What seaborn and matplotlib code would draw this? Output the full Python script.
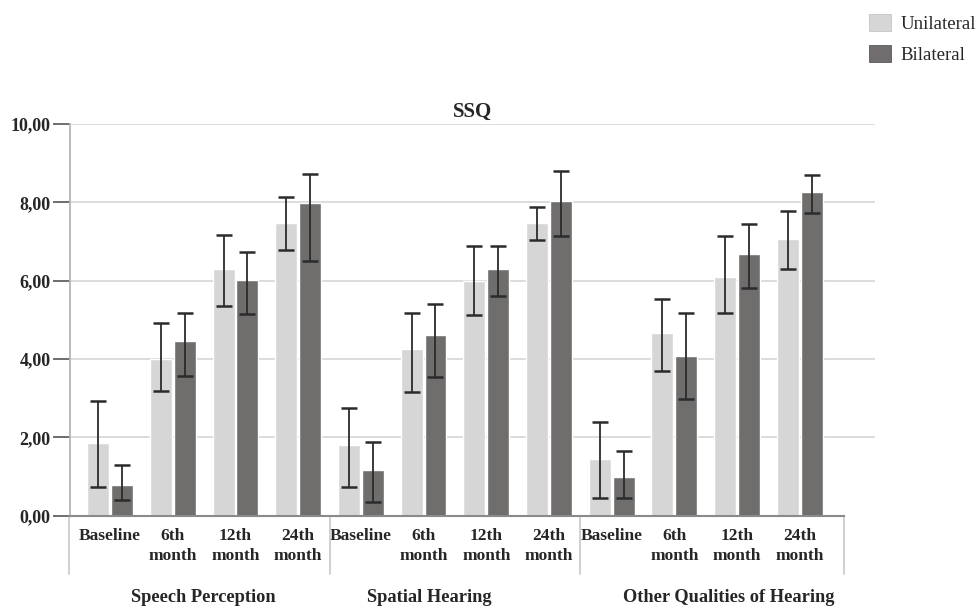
import pandas as pd
import seaborn as sns
import matplotlib.pyplot as plt
from matplotlib.patches import Patch

# data
groups = ["Speech Perception", "Spatial Hearing", "Other Qualities of Hearing"]
times = ["Baseline", "6th\nmonth", "12th\nmonth", "24th\nmonth"]
conditions = ["Unilateral", "Bilateral"]

uni_mean = [1.85, 4.01, 6.29, 7.46, 1.80, 4.25, 5.99, 7.46, 1.44, 4.67, 6.09, 7.06]
uni_low = [0.72, 3.19, 5.35, 6.78, 0.72, 3.17, 5.12, 7.04, 0.45, 3.70, 5.17, 6.29]
uni_high = [2.94, 4.91, 7.17, 8.13, 2.76, 5.17, 6.89, 7.89, 2.40, 5.52, 7.13, 7.77]

bi_mean = [0.78, 4.45, 6.03, 7.98, 1.16, 4.61, 6.29, 8.04, 1.00, 4.07, 6.69, 8.26]
bi_low = [0.40, 3.57, 5.16, 6.49, 0.36, 3.53, 5.61, 7.15, 0.45, 2.97, 5.82, 7.74]
bi_high = [1.30, 5.17, 6.73, 8.72, 1.89, 5.40, 6.89, 8.79, 1.66, 5.18, 7.44, 8.71]

yticks = [0, 2, 4, 6, 8, 10]

UNI_COLOR = "#d6d6d6"
BI_COLOR = "#716c6d"


def buildFrame():
    slots = [g + " " + t for g in groups for t in times]
    rows = []
    for i, s in enumerate(slots):
        rows.append({"slot": s, "cond": "Unilateral", "val": uni_mean[i], "lo": uni_low[i], "hi": uni_high[i]})
        rows.append({"slot": s, "cond": "Bilateral", "val": bi_mean[i], "lo": bi_low[i], "hi": bi_high[i]})
    return slots, pd.DataFrame(rows)


if __name__ == "__main__":
    sns.set_style("white")
    plt.rcParams['font.family'] = ['Liberation Serif', 'DejaVu Serif']

    slots, df = buildFrame()

    fig = plt.figure(figsize=(9.8, 6.09), dpi=100)
    ax = fig.add_axes([0.0714, 0.1532, 0.8214, 0.6432])

    sns.barplot(data=df, x="slot", y="val", hue="cond", order=slots, hue_order=conditions,
                palette=[UNI_COLOR, BI_COLOR], width=0.76, gap=0.08, errorbar=None,
                legend=False, ax=ax, zorder=2)

    # error bars at the bar centres
    for cont, cond in zip(ax.containers, conditions):
        sub = df[df.cond == cond].set_index("slot").loc[slots]
        xs = [b.get_x() + b.get_width() / 2 for b in cont]
        ax.errorbar(xs, sub["val"], yerr=[sub["val"] - sub["lo"], sub["hi"] - sub["val"]],
                    fmt="none", ecolor="#2b2b2b", elinewidth=1.3, capsize=6, capthick=1.8, zorder=3)

    ax.set_ylim(0, 10)
    ax.set_xlim(-0.64, 12.2)
    ax.set_yticks(yticks)
    ax.set_yticklabels([f"{v:.2f}".replace(".", ",") for v in yticks], fontsize=13, fontweight="bold")
    for v in yticks[1:]:
        ax.axhline(v, color="#dcdcdc", lw=1.4, zorder=0)

    ax.set_xticks(range(len(slots)))
    ax.set_xticklabels(times * 3, fontsize=12.5, fontweight="bold", linespacing=1.3)
    ax.tick_params(axis="x", length=0, pad=9)
    ax.tick_params(axis="y", length=12, width=1.2, color="#555555", left=True, pad=2)
    ax.set_xlabel("")
    ax.set_ylabel("")

    for side in ["top", "right"]:
        ax.spines[side].set_visible(False)
    ax.spines["left"].set_color("#b5b5b5")
    ax.spines["left"].set_linewidth(1.3)
    ax.spines["bottom"].set_color("#8a8a8a")
    ax.spines["bottom"].set_linewidth(1.5)
    ax.spines["bottom"].set_bounds(-0.66, 11.7)

    # group separators below the axis
    trans = ax.get_xaxis_transform()
    for xs in [-0.66, 3.5, 7.5, 11.7]:
        ax.plot([xs, xs], [0, -0.15], transform=trans, color="#c8c8c8", lw=1.2, clip_on=False)

    # group titles
    for gx, g in zip([1.49, 5.09, 9.87], groups):
        ax.text(gx, -0.208, g, transform=trans, ha="center", va="center",
                fontsize=13.2, fontweight="bold")

    ax.set_title("SSQ", fontsize=15, fontweight="bold", pad=5)

    handles = [Patch(facecolor=UNI_COLOR, edgecolor="#c4c4c4", lw=0.6),
               Patch(facecolor=BI_COLOR, edgecolor="#5e5a5b", lw=0.6)]
    fig.legend(handles, conditions, loc="upper right", bbox_to_anchor=(1.013, 1.005),
               frameon=False, prop={"size": 13.6}, handlelength=1.15, handleheight=1.0,
               handletextpad=0.5, labelspacing=0.65)

    plt.savefig("out.png", dpi=100)
